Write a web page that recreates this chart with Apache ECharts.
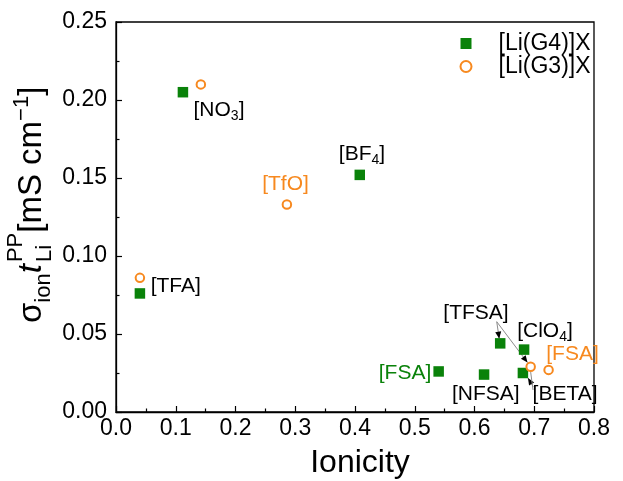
<!DOCTYPE html>
<html>
<head>
<meta charset="utf-8">
<script src="https://cdn.jsdelivr.net/npm/echarts@6/dist/echarts.min.js"></script>
<style>
  html, body { margin: 0; padding: 0; background: #fff; }
  #chart { width: 623px; height: 481px; }
</style>
</head>
<body>
<div id="chart"></div>
<script>
// [Li(G4)]X electrolytes: ionicity vs. sigma_ion * t_Li^PP (mS cm^-1)
const g4Anions       = ['TFA', 'NO3', 'BF4', 'FSA', 'NFSA', 'TFSA', 'ClO4', 'BETA'];
const g4Ionicity     = [0.040, 0.112, 0.408, 0.540, 0.616, 0.643, 0.683, 0.681];
const g4Conductivity = [0.076, 0.205, 0.152, 0.026, 0.024, 0.044, 0.040, 0.025];

// [Li(G3)]X electrolytes
const g3Anions       = ['TFA', 'NO3', 'TfO', 'TFSA', 'FSA'];
const g3Ionicity     = [0.040, 0.142, 0.286, 0.694, 0.724];
const g3Conductivity = [0.086, 0.210, 0.133, 0.029, 0.027];

// axis tick labels
const xTickLabels = ['0.0', '0.1', '0.2', '0.3', '0.4', '0.5', '0.6', '0.7', '0.8'];
const yTickLabels = ['0.00', '0.05', '0.10', '0.15', '0.20', '0.25'];

const FONT = "'Liberation Sans', Arial, Helvetica, sans-serif";
const GREEN = '#0a820a';
const ORANGE = '#f7891f';

// anion name tags, anchored in data units (centre of the tag)
const tags = [
  { text: '[TFA]',        at: [0.100, 0.0808], color: '#000' },
  { text: '[NO{s|3}]',    at: [0.1724, 0.1935], color: '#000' },
  { text: '[BF{s|4}]',    at: [0.4117, 0.1650], color: '#000' },
  { text: '[TfO]',        at: [0.2837, 0.1458], color: ORANGE },
  { text: '[TFSA]',       at: [0.6025, 0.0635], color: '#000' },
  { text: '[ClO{s|4}]',   at: [0.7180, 0.0520], color: '#000' },
  { text: '[FSA]',        at: [0.7640, 0.0372], color: ORANGE },
  { text: '[FSA]',        at: [0.4837, 0.0250], color: GREEN },
  { text: '[NFSA]',       at: [0.6190, 0.0115], color: '#000' },
  { text: '[BETA]',       at: [0.7515, 0.0115], color: '#000' }
];

// leader lines from tags to crowded points: [x0, y0, x1, y1, arrowhead]
const leaders = [
  [0.6372, 0.0579, 0.6414, 0.0470, 1],
  [0.6372, 0.0579, 0.6887, 0.0317, 1],
  [0.6984, 0.0162, 0.6895, 0.0218, 1],
  [0.6980, 0.0141, 0.6940, 0.0256, 0]
];

const chart = echarts.init(document.getElementById('chart'), null, { renderer: 'canvas' });

function pairs(xs, ys, names) {
  return xs.map((x, i) => ({ value: [x, ys[i]], name: names[i] }));
}

const option = {
  animation: false,
  backgroundColor: '#fff',
  textStyle: { fontFamily: FONT },
  grid: {
    left: 116, right: 29, top: 22, bottom: 69,
    show: true, borderColor: '#000', borderWidth: 1.3, backgroundColor: 'transparent',
    outerBoundsMode: 'none'
  },
  legend: {
    orient: 'vertical',
    left: 459.5, top: 32,
    padding: 0,
    itemWidth: 11, itemHeight: 11, itemGap: 0,
    selectedMode: false,
    textStyle: { fontFamily: FONT, fontSize: 23, color: '#000', lineHeight: 22, padding: [0, 0, 0, 22] },
    data: ['[Li(G4)]X', '[Li(G3)]X']
  },
  xAxis: {
    type: 'value', min: 0, max: 0.8, interval: 0.1,
    name: 'Ionicity', nameLocation: 'middle', nameGap: 35,
    nameTextStyle: { fontFamily: FONT, fontSize: 32, color: '#000', padding: [0, 0, 0, 10] },
    axisLine: { show: true, onZero: false, lineStyle: { color: '#000', width: 1.3 } },
    axisTick: { show: true, inside: true, length: 6, lineStyle: { color: '#000', width: 1.2 } },
    minorTick: { show: true, splitNumber: 2, length: 3.5, lineStyle: { color: '#000', width: 1.2 } },
    splitLine: { show: false },
    axisLabel: {
      margin: 5, fontFamily: FONT, fontSize: 23, color: '#000',
      formatter: v => xTickLabels[Math.round(v / 0.1)]
    }
  },
  yAxis: {
    type: 'value', min: 0, max: 0.25, interval: 0.05,
    axisLine: { show: true, onZero: false, lineStyle: { color: '#000', width: 1.3 } },
    axisTick: { show: true, inside: true, length: 6, lineStyle: { color: '#000', width: 1.2 } },
    minorTick: { show: true, splitNumber: 2, length: 3.5, lineStyle: { color: '#000', width: 1.2 } },
    splitLine: { show: false },
    axisLabel: {
      margin: 9, fontFamily: FONT, fontSize: 23, color: '#000',
      formatter: v => yTickLabels[Math.round(v / 0.05)]
    }
  },
  series: [
    {
      type: 'custom',
      name: 'leaders',
      silent: true,
      z: 3,
      encode: { x: [0, 2], y: [1, 3] },
      data: leaders,
      renderItem: function (params, api) {
        const p0 = api.coord([api.value(0), api.value(1)]);
        const p1 = api.coord([api.value(2), api.value(3)]);
        const kids = [{
          type: 'line',
          shape: { x1: p0[0], y1: p0[1], x2: p1[0], y2: p1[1] },
          style: { stroke: '#8c8c8c', lineWidth: 1 }
        }];
        if (api.value(4)) {
          const a = Math.atan2(p1[1] - p0[1], p1[0] - p0[0]);
          const L = 7, W = 3;
          const bx = p1[0] - L * Math.cos(a), by = p1[1] - L * Math.sin(a);
          kids.push({
            type: 'polygon',
            shape: { points: [
              [p1[0], p1[1]],
              [bx - W * Math.sin(a), by + W * Math.cos(a)],
              [bx + W * Math.sin(a), by - W * Math.cos(a)]
            ] },
            style: { fill: '#000' }
          });
        }
        return { type: 'group', children: kids };
      }
    },
    {
      type: 'scatter',
      name: '[Li(G4)]X',
      symbol: 'rect',
      symbolSize: 10.5,
      z: 4,
      itemStyle: { color: GREEN, opacity: 1 },
      data: pairs(g4Ionicity, g4Conductivity, g4Anions)
    },
    {
      type: 'scatter',
      name: '[Li(G3)]X',
      symbol: 'circle',
      symbolSize: 8.5,
      z: 5,
      itemStyle: { color: '#fff', borderColor: ORANGE, borderWidth: 2, opacity: 1 },
      data: pairs(g3Ionicity, g3Conductivity, g3Anions)
    },
    {
      type: 'scatter',
      name: 'tags',
      symbolSize: 0,
      silent: true,
      z: 6,
      itemStyle: { color: 'transparent' },
      data: tags.map(t => ({
        value: t.at,
        name: t.text,
        label: { color: t.color }
      })),
      label: {
        show: true,
        position: 'inside',
        fontFamily: FONT,
        fontSize: 21,
        lineHeight: 26,
        textBorderWidth: 0,
        textShadowBlur: 0,
        opacity: 1,
        formatter: p => p.name,
        rich: {
          s: { fontFamily: FONT, fontSize: 14, lineHeight: 10, verticalAlign: 'bottom', textBorderWidth: 0 }
        }
      }
    }
  ]
};

chart.setOption(option);

// y-axis title: sigma_ion t^PP_Li [mS cm^-1], read bottom to top
(function drawYTitle() {
  const ctx = document.createElement('canvas').getContext('2d');
  const width = (txt, size, italic) => {
    ctx.font = (italic ? 'italic ' : '') + size + 'px ' + FONT;
    return ctx.measureText(txt).width;
  };
  const big = 33, small = 22;
  const parts = [
    [{ t: '\u03c3', size: big, dy: 0 }],
    [{ t: 'ion', size: small, dy: 9 }],
    [{ t: 't', size: big, dy: 0, italic: true }],
    [{ t: 'PP', size: small, dy: -19 }, { t: 'Li', size: small, dy: 10 }],
    [{ t: '[mS cm', size: big, dy: 0 }],
    [{ t: '\u22121', size: small, dy: -13 }],
    [{ t: ']', size: big, dy: 0 }]
  ];
  const kids = [];
  let pos = 0;
  parts.forEach((stack, k) => {
    let adv = 0;
    stack.forEach(p => {
      kids.push({
        type: 'text',
        style: {
          text: p.t,
          x: pos,
          y: p.dy - 0.35 * p.size,
          font: (p.italic ? 'italic ' : '') + p.size + 'px ' + FONT,
          fill: '#000',
          align: 'left',
          verticalAlign: 'middle'
        }
      });
      adv = Math.max(adv, width(p.t, p.size, p.italic));
    });
    pos += adv + (k === 2 ? 2 : 0);
  });
  chart.setOption({
    graphic: [{ type: 'group', x: 43, y: 323, rotation: Math.PI / 2, silent: true, children: kids }]
  });
})();
</script>
</body>
</html>
